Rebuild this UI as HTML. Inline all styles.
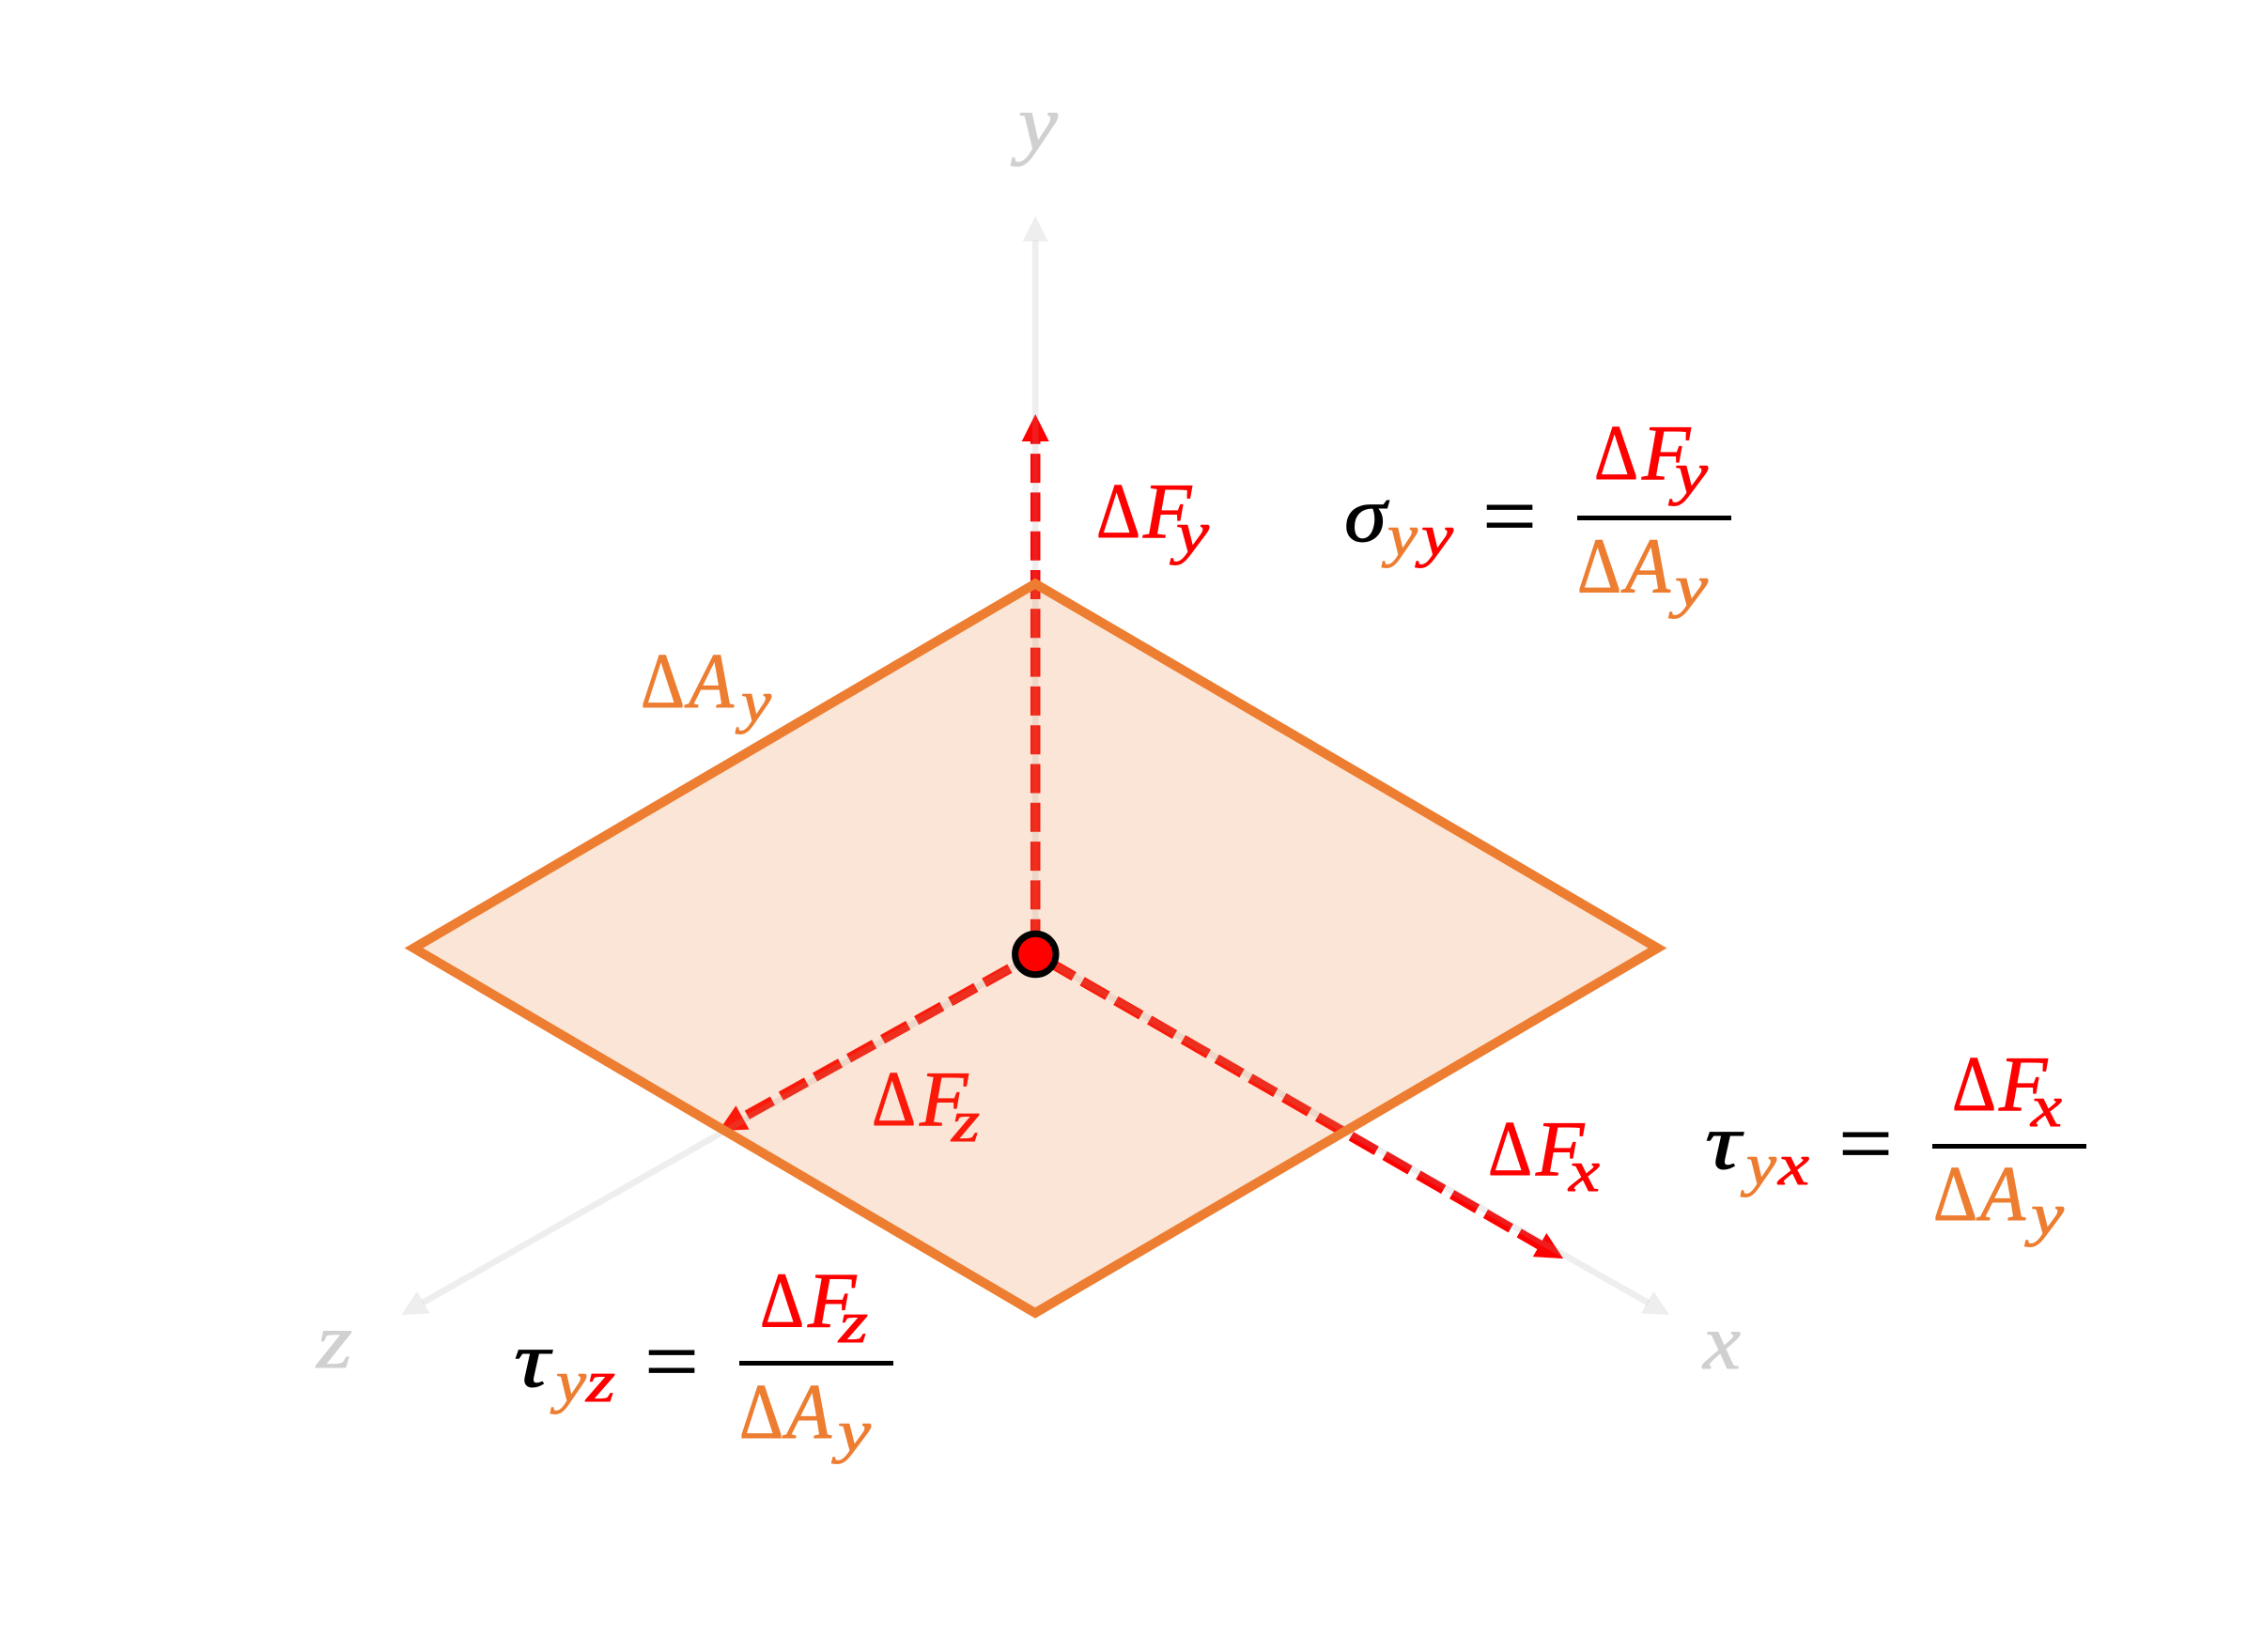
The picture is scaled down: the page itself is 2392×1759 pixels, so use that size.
<!DOCTYPE html>
<html lang="en">
<head>
<meta charset="utf-8">
<title>Stress components on a surface element</title>
<style>
html,body{margin:0;padding:0;background:#fff;}
svg{display:block;}
text{font-family:"Liberation Serif",serif;font-size:84px;stroke-width:0.9px;}
.i{font-style:italic;}
.s{font-style:italic;font-size:62px;}
.r{fill:#ff0000;stroke:#ff0000;}
.o{fill:#ed7d31;stroke:#ed7d31;}
.k{fill:#000000;stroke:#000000;}
.g{fill:#d0d0d0;stroke:#d0d0d0;font-style:italic;}
.e{font-size:94px;fill:#000;stroke:#000;stroke-width:0.7px;}
</style>
</head>
<body>
<svg id="diagram" width="2392" height="1759" viewBox="0 0 2392 1759" xmlns="http://www.w3.org/2000/svg">
  <rect width="2392" height="1759" fill="#ffffff"/>
  <g id="forces"></g>
  <g>
    <text class="r" x="928" y="1198" textLength="47" lengthAdjust="spacingAndGlyphs">Δ</text>
    <text class="r i" x="979" y="1198">F</text>
    <text class="s r" x="1013" y="1215" textLength="30" lengthAdjust="spacingAndGlyphs">z</text>
  </g>
  <g id="axes"></g>
  <polygon points="1102,621.5 1764.5,1009.5 1102,1398 440.5,1009.5" fill="#ed7d31" fill-opacity="0.2" stroke="#ed7d31" stroke-width="10" stroke-linejoin="miter"/>
  <circle cx="1102.3" cy="1016" r="21.7" fill="#ff0000" stroke="#000000" stroke-width="7"/>

  <text class="g" x="1084" y="159" font-size="84" textLength="42" lengthAdjust="spacingAndGlyphs">y</text>
  <text class="g" x="1813" y="1457" textLength="40" lengthAdjust="spacingAndGlyphs">x</text>
  <text class="g" x="337" y="1456" textLength="38" lengthAdjust="spacingAndGlyphs">z</text>

  <g>
    <text class="r" x="1167" y="572" textLength="47" lengthAdjust="spacingAndGlyphs">Δ</text>
    <text class="r i" x="1217" y="572">F</text>
    <text class="s r" x="1252" y="588" textLength="35" lengthAdjust="spacingAndGlyphs">y</text>
  </g>
  <g>
    <text class="r" x="1584" y="1251" textLength="47" lengthAdjust="spacingAndGlyphs">Δ</text>
    <text class="r i" x="1635" y="1251">F</text>
    <text class="s r" x="1670" y="1268" textLength="33" lengthAdjust="spacingAndGlyphs">x</text>
  </g>
  <g>
    <text class="o" x="682" y="753" textLength="47" lengthAdjust="spacingAndGlyphs">Δ</text>
    <text class="o i" x="733" y="753" textLength="48" lengthAdjust="spacingAndGlyphs">A</text>
    <text class="s o" x="789" y="768" textLength="32" lengthAdjust="spacingAndGlyphs">y</text>
  </g>

  <g>
    <text class="k i" x="1431" y="576" textLength="45" lengthAdjust="spacingAndGlyphs">σ</text>
    <text class="s o" x="1477" y="591" textLength="32" lengthAdjust="spacingAndGlyphs">y</text>
    <text class="s r" x="1513" y="591" textLength="34" lengthAdjust="spacingAndGlyphs">y</text>
    <text class="e" x="1578" y="581" textLength="58" lengthAdjust="spacingAndGlyphs">=</text>
    <rect x="1679" y="549" width="164" height="5" fill="#000"/>
    <text class="r" x="1697" y="510" textLength="47" lengthAdjust="spacingAndGlyphs">Δ</text>
    <text class="r i" x="1748" y="510">F</text>
    <text class="s r" x="1783" y="525" textLength="35" lengthAdjust="spacingAndGlyphs">y</text>
    <text class="o" x="1679" y="630.5" textLength="47" lengthAdjust="spacingAndGlyphs">Δ</text>
    <text class="o i" x="1730" y="630.5" textLength="48" lengthAdjust="spacingAndGlyphs">A</text>
    <text class="s o" x="1783" y="645" textLength="35" lengthAdjust="spacingAndGlyphs">y</text>
  </g>

  <g>
    <text class="k i" x="1815" y="1244" textLength="38" lengthAdjust="spacingAndGlyphs">τ</text>
    <text class="s o" x="1859" y="1261" textLength="32" lengthAdjust="spacingAndGlyphs">y</text>
    <text class="s r" x="1893" y="1261" textLength="33" lengthAdjust="spacingAndGlyphs">x</text>
    <text class="e" x="1957" y="1249" textLength="58" lengthAdjust="spacingAndGlyphs">=</text>
    <rect x="2057" y="1218" width="164" height="5" fill="#000"/>
    <text class="r" x="2078" y="1182" textLength="47" lengthAdjust="spacingAndGlyphs">Δ</text>
    <text class="r i" x="2128" y="1182">F</text>
    <text class="s r" x="2162" y="1199" textLength="33" lengthAdjust="spacingAndGlyphs">x</text>
    <text class="o" x="2058" y="1299" textLength="47" lengthAdjust="spacingAndGlyphs">Δ</text>
    <text class="o i" x="2108" y="1299" textLength="48" lengthAdjust="spacingAndGlyphs">A</text>
    <text class="s o" x="2162" y="1314" textLength="35" lengthAdjust="spacingAndGlyphs">y</text>
  </g>

  <g>
    <text class="k i" x="547" y="1476" textLength="38" lengthAdjust="spacingAndGlyphs">τ</text>
    <text class="s o" x="592" y="1492" textLength="32" lengthAdjust="spacingAndGlyphs">y</text>
    <text class="s r" x="624" y="1492" textLength="31" lengthAdjust="spacingAndGlyphs">z</text>
    <text class="e" x="686" y="1481" textLength="58" lengthAdjust="spacingAndGlyphs">=</text>
    <rect x="787" y="1449" width="164" height="5" fill="#000"/>
    <text class="r" x="809" y="1412.5" textLength="47" lengthAdjust="spacingAndGlyphs">Δ</text>
    <text class="r i" x="860" y="1412.5">F</text>
    <text class="s r" x="893" y="1429" textLength="31" lengthAdjust="spacingAndGlyphs">z</text>
    <text class="o" x="787" y="1531" textLength="47" lengthAdjust="spacingAndGlyphs">Δ</text>
    <text class="o i" x="837" y="1531" textLength="48" lengthAdjust="spacingAndGlyphs">A</text>
    <text class="s o" x="892" y="1545" textLength="35" lengthAdjust="spacingAndGlyphs">y</text>
  </g>
</svg>
<script>
const axisNames = ['x', 'y', 'z'];
const axisLengths = [776.6, 786, 776.6];
const axisAngles = [29.64, -90, 150.36];
const forceNames = ['x', 'y', 'z'];
const forceMagnitudes = [648.7, 575, 386];
const forceAngles = [29.97, -90, 150.84];
const forceDashPhases = [25, 35, 10];

const SVG_NS = 'http://www.w3.org/2000/svg';
const originX = 1102.2;
const originY = 1016;

function polar(angle, r) {
  const t = angle * Math.PI / 180;
  return [originX + r * Math.cos(t), originY + r * Math.sin(t)];
}
function headPoints(angle, length, headLen, headWidth) {
  const t = angle * Math.PI / 180;
  const tip = polar(angle, length);
  const base = polar(angle, length - headLen);
  const nx = -Math.sin(t) * headWidth / 2;
  const ny = Math.cos(t) * headWidth / 2;
  return [tip, [base[0] + nx, base[1] + ny], [base[0] - nx, base[1] - ny]]
    .map(function (p) { return p[0].toFixed(1) + ',' + p[1].toFixed(1); }).join(' ');
}
function shaft(angle, length, headLen, width, color) {
  const end = polar(angle, length - headLen);
  const line = document.createElementNS(SVG_NS, 'line');
  line.setAttribute('x1', originX);
  line.setAttribute('y1', originY);
  line.setAttribute('x2', end[0]);
  line.setAttribute('y2', end[1]);
  line.setAttribute('stroke', color);
  line.setAttribute('stroke-width', width);
  return line;
}
function head(angle, length, headLen, headWidth, color) {
  const poly = document.createElementNS(SVG_NS, 'polygon');
  poly.setAttribute('points', headPoints(angle, length, headLen, headWidth));
  poly.setAttribute('fill', color);
  return poly;
}

const forcesLayer = document.getElementById('forces');
forceNames.forEach(function (name, i) {
  const line = shaft(forceAngles[i], forceMagnitudes[i], 28, 10.5, '#ff0000');
  line.setAttribute('stroke-dasharray', '31 10.3');
  line.setAttribute('stroke-dashoffset', forceDashPhases[i]);
  
  
  forcesLayer.appendChild(line);
  const tip = head(forceAngles[i], forceMagnitudes[i], 29, 29, '#ff0000');
  
  
  forcesLayer.appendChild(tip);
});

const axesLayer = document.getElementById('axes');
axisNames.forEach(function (name, i) {
  const line = shaft(axisAngles[i], axisLengths[i], 26, 6.7, 'rgba(159,159,159,0.176)');
  
  
  axesLayer.appendChild(line);
  const tip = head(axisAngles[i], axisLengths[i], 27, 27, 'rgba(159,159,159,0.176)');
  
  
  axesLayer.appendChild(tip);
});
</script>
</body>
</html>
